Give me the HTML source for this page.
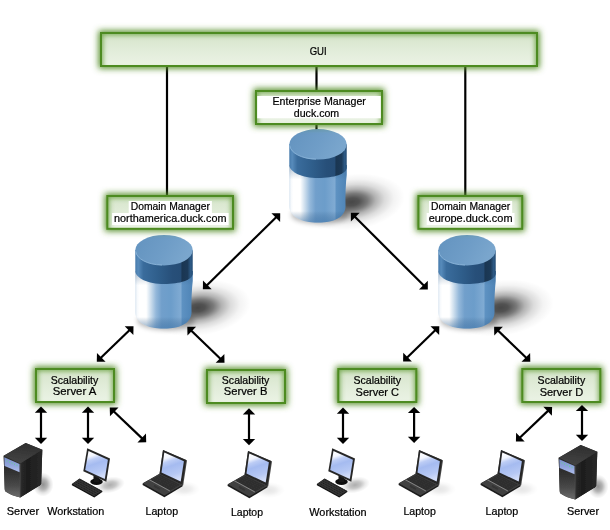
<!DOCTYPE html>
<html>
<head>
<meta charset="utf-8">
<title>Diagram</title>
<style>
html,body{margin:0;padding:0;background:#fff;}
body{width:610px;height:530px;overflow:hidden;font-family:"Liberation Sans",sans-serif;}
svg{display:block;}
text{font-family:"Liberation Sans",sans-serif;font-size:11px;fill:#000;stroke:#000;stroke-width:0.22px;}
</style>
</head>
<body>
<svg width="610" height="530" viewBox="0 0 610 530">
<defs>
  <linearGradient id="gbox" x1="0" y1="0" x2="0" y2="1">
    <stop offset="0" stop-color="#d5e4c9"/>
    <stop offset="0.5" stop-color="#e1ecd9"/>
    <stop offset="1" stop-color="#ebf3e5"/>
  </linearGradient>
  <linearGradient id="gboxw" x1="0" y1="0" x2="0" y2="1">
    <stop offset="0" stop-color="#f4f9f0"/>
    <stop offset="1" stop-color="#ffffff"/>
  </linearGradient>
  <filter id="glow" x="-30%" y="-60%" width="160%" height="220%">
    <feGaussianBlur stdDeviation="3.3"/>
  </filter>
  <filter id="iglow" x="-30%" y="-60%" width="160%" height="220%">
    <feGaussianBlur stdDeviation="2.6"/>
  </filter>
  <filter id="sh" x="-50%" y="-50%" width="200%" height="200%">
    <feGaussianBlur stdDeviation="5"/>
  </filter>
  <filter id="sh2" x="-50%" y="-50%" width="200%" height="200%">
    <feGaussianBlur stdDeviation="2.5"/>
  </filter>
  <filter id="b1" x="-20%" y="-20%" width="140%" height="140%">
    <feGaussianBlur stdDeviation="0.35"/>
  </filter>

  <linearGradient id="cbody" x1="0" y1="0" x2="1" y2="0">
    <stop offset="0" stop-color="#d8e4f0"/>
    <stop offset="0.03" stop-color="#f6f9fc"/>
    <stop offset="0.07" stop-color="#ffffff"/>
    <stop offset="0.19" stop-color="#ffffff"/>
    <stop offset="0.27" stop-color="#cddeed"/>
    <stop offset="0.36" stop-color="#94b8da"/>
    <stop offset="0.46" stop-color="#719fcb"/>
    <stop offset="0.62" stop-color="#6c9dca"/>
    <stop offset="0.72" stop-color="#78a5cf"/>
    <stop offset="0.795" stop-color="#80abd3"/>
    <stop offset="0.815" stop-color="#5e92c2"/>
    <stop offset="1" stop-color="#4f84b6"/>
  </linearGradient>
  <linearGradient id="cband" x1="0" y1="0" x2="1" y2="0">
    <stop offset="0" stop-color="#467aab"/>
    <stop offset="0.05" stop-color="#578bbb"/>
    <stop offset="0.14" stop-color="#3a6c9c"/>
    <stop offset="0.40" stop-color="#2f5e8b"/>
    <stop offset="0.65" stop-color="#274f79"/>
    <stop offset="0.79" stop-color="#264d76"/>
    <stop offset="0.815" stop-color="#1a3652"/>
    <stop offset="0.91" stop-color="#1c3a58"/>
    <stop offset="0.965" stop-color="#2d5a86"/>
    <stop offset="1" stop-color="#234b73"/>
  </linearGradient>
  <linearGradient id="ctop" x1="0" y1="0" x2="1" y2="0.3">
    <stop offset="0" stop-color="#6393bf"/>
    <stop offset="0.6" stop-color="#6f9dc7"/>
    <stop offset="1" stop-color="#7aa6cd"/>
  </linearGradient>
  <linearGradient id="cbodyv" x1="0" y1="0" x2="0" y2="1">
    <stop offset="0" stop-color="#274f78" stop-opacity="0.35"/>
    <stop offset="0.25" stop-color="#274f78" stop-opacity="0"/>
    <stop offset="0.8" stop-color="#274f78" stop-opacity="0"/>
    <stop offset="1" stop-color="#3f74a8" stop-opacity="0.55"/>
  </linearGradient>
  <radialGradient id="cshadow" cx="0.5" cy="0.5" r="0.5">
    <stop offset="0" stop-color="#000" stop-opacity="0.72"/>
    <stop offset="0.14" stop-color="#000" stop-opacity="0.68"/>
    <stop offset="0.30" stop-color="#000" stop-opacity="0.52"/>
    <stop offset="0.45" stop-color="#000" stop-opacity="0.30"/>
    <stop offset="0.62" stop-color="#000" stop-opacity="0.14"/>
    <stop offset="0.80" stop-color="#000" stop-opacity="0.045"/>
    <stop offset="1" stop-color="#000" stop-opacity="0"/>
  </radialGradient>
  <g id="cyl" transform="scale(0.99,1)">
    <ellipse cx="63" cy="73" rx="54" ry="28" fill="url(#cshadow)" transform="rotate(-7 63 73)"/>
    <ellipse cx="31" cy="86" rx="29" ry="9" fill="#000" opacity="0.28" filter="url(#sh2)"/>
    <path d="M0,36 L0,77 C0,87.6 12,93.6 29,93.6 C46,93.6 56.8,87.6 56.8,77 Q56.4,60 58,46 L58,36 Z" fill="url(#cbody)"/>
    <path d="M0,36 L0,77 C0,87.6 12,93.6 29,93.6 C46,93.6 56.8,87.6 56.8,77 Q56.4,60 58,46 L58,36 Z" fill="url(#cbodyv)"/>
    <path d="M0,15.3 L0,36 C0,43 13,49 29,49 C45,49 58,45 58,38.5 L58,15.3 Z" fill="url(#cband)"/>
    <ellipse cx="29" cy="15.3" rx="29" ry="15.3" fill="url(#ctop)"/>
    <path d="M0.4,16.5 C1.5,24 12,29.8 27,30.2" fill="none" stroke="#93bbde" stroke-width="1" opacity="0.75"/>
  </g>

  <linearGradient id="scr" x1="0.15" y1="0" x2="0.42" y2="1">
    <stop offset="0" stop-color="#ffffff"/>
    <stop offset="0.20" stop-color="#f3f6fe"/>
    <stop offset="0.33" stop-color="#bdcdf5"/>
    <stop offset="0.50" stop-color="#a5bbf0"/>
    <stop offset="0.80" stop-color="#b6c8f4"/>
    <stop offset="1" stop-color="#d2ddf9"/>
  </linearGradient>
  <radialGradient id="ishadow" cx="0.5" cy="0.5" r="0.5">
    <stop offset="0" stop-color="#000" stop-opacity="1"/>
    <stop offset="0.4" stop-color="#000" stop-opacity="0.7"/>
    <stop offset="0.7" stop-color="#000" stop-opacity="0.25"/>
    <stop offset="1" stop-color="#000" stop-opacity="0"/>
  </radialGradient>
  <g id="laptop">
    <ellipse cx="184" cy="489" rx="16" ry="8" fill="url(#ishadow)" opacity="0.10"/>
    <g filter="url(#b1)">
    <!-- base -->
    <polygon points="142.6,483.4 159.5,473.7 182.6,484.9 182.6,486.3 164.4,497.2 142.6,485.0" fill="#1b1b1b"/>
    <polygon points="142.8,483.3 159.5,473.9 182.4,484.9 164.3,495.4" fill="#414141"/>
    <polygon points="150.5,479.8 160.2,474.8 180,484.8 170.5,490.4" fill="#2d2d2d"/>
    <g stroke="#3b3b3b" stroke-width="0.6" stroke-dasharray="1 0.8">
      <line x1="153" y1="479.6" x2="172.5" y2="489.4"/>
      <line x1="155.3" y1="478.4" x2="174.8" y2="488.2"/>
      <line x1="157.6" y1="477.2" x2="177.1" y2="487"/>
      <line x1="159.6" y1="476.1" x2="179.1" y2="485.9"/>
    </g>
    <line x1="149.1" y1="479.6" x2="169.9" y2="491" stroke="#8c8c8c" stroke-width="0.9"/>
    <line x1="154" y1="485.8" x2="160" y2="489.1" stroke="#353535" stroke-width="2.2"/>
    <!-- screen -->
    <polygon points="163,450 186.2,459.9 187,460.5 183.2,485.3 182.4,485 159.5,473.9" fill="#4c4c4c"/>
    <polygon points="163,450 186.2,459.9 182.4,485 159.5,473.9" fill="#282828"/>
    <polygon points="164.3,452.4 183.9,461.2 180.7,481.6 161.5,472.4" fill="url(#scr)"/>
    </g>
  </g>

  <g id="ws">
    <ellipse cx="110" cy="485" rx="15" ry="8" fill="url(#ishadow)" opacity="0.32" transform="rotate(-12 110 485)"/>
    <g filter="url(#b1)">
    <!-- stand -->
    <ellipse cx="96.5" cy="481.8" rx="6.2" ry="3.2" fill="#0e0e0e"/>
    <polygon points="93.5,474 99.5,476.5 99.5,482 93.5,482" fill="#151515"/>
    <!-- monitor -->
    <polygon points="87.2,448.3 110,458.4 106.3,481.7 83.3,471.3" fill="#282828"/>
    <polygon points="88.5,450.9 107.9,459.7 104.8,478.9 85.2,470" fill="url(#scr)"/>
    <!-- keyboard -->
    <polygon points="71.9,484.1 79.6,478.6 102.3,490.9 102.3,492 94.3,497.4 71.9,485.2" fill="#111"/>
    <polygon points="72.1,484 79.6,478.8 102.1,490.9 94.3,496.2" fill="#353535"/>
    <g stroke="#1a1a1a" stroke-width="0.9" stroke-dasharray="1.1 0.7">
      <line x1="74.6" y1="483.6" x2="96" y2="495.1"/>
      <line x1="76.4" y1="482.3" x2="97.8" y2="493.8"/>
      <line x1="78.2" y1="481" x2="99.6" y2="492.5"/>
      <line x1="79.8" y1="479.8" x2="101.2" y2="491.3"/>
    </g>
    </g>
  </g>

  <linearGradient id="sfront" x1="0" y1="0" x2="0" y2="1">
    <stop offset="0" stop-color="#262626"/>
    <stop offset="0.35" stop-color="#2f2f2f"/>
    <stop offset="0.7" stop-color="#484848"/>
    <stop offset="1" stop-color="#6c6c6c"/>
  </linearGradient>
  <linearGradient id="sside" x1="0" y1="0" x2="1" y2="0">
    <stop offset="0" stop-color="#2c2c2c"/>
    <stop offset="0.3" stop-color="#1d1d1d"/>
    <stop offset="1" stop-color="#282828"/>
  </linearGradient>
  <linearGradient id="stop" x1="0.6" y1="0" x2="0.4" y2="1">
    <stop offset="0" stop-color="#2e2e2e"/>
    <stop offset="1" stop-color="#444444"/>
  </linearGradient>
  <linearGradient id="spanel" x1="0" y1="0" x2="0" y2="1">
    <stop offset="0" stop-color="#7d92cc"/>
    <stop offset="0.5" stop-color="#8fa3dc"/>
    <stop offset="1" stop-color="#b0bfec"/>
  </linearGradient>
  <g id="server">
    <ellipse cx="43" cy="484.5" rx="10.5" ry="12" fill="url(#ishadow)" opacity="0.43"/>
    <g filter="url(#b1)">
    <path d="M3.7,455.7 L25.7,443.1 L42.3,449.8 L41.2,483.5 Q41,484.6 40,485.3 L20.2,497.6 Q12,496 5.5,491.5 Q4.8,490.5 4.7,489 Z" fill="#252525"/>
    <path d="M3.7,455.7 L20.4,463.3 L20.4,497.6 Q12,496 5.5,491.5 Q4.8,490.5 4.7,489 Z" fill="url(#sfront)"/>
    <path d="M20.2,463.3 L42.3,449.8 L41.2,483.5 Q41,484.6 40,485.3 L20.2,497.6 Z" fill="url(#sside)"/>
    <polygon points="3.7,455.7 25.7,443.1 42.3,449.8 20.2,463.5" fill="url(#stop)"/>
    <polygon points="4.3,457.3 19.6,464.1 19.6,472.3 4.6,466.1" fill="url(#spanel)"/>
    <g fill="#6fc2a8"><rect x="6.5" y="460.2" width="1" height="1.6"/><rect x="9" y="461.3" width="1" height="1.6"/><rect x="11.5" y="462.4" width="1" height="1.6"/><rect x="14" y="463.5" width="1" height="1.6"/><rect x="16.5" y="464.6" width="1" height="1.6"/></g>
    <line x1="20.2" y1="464" x2="20.2" y2="497" stroke="#505050" stroke-width="0.7"/>
    </g>
  </g>
</defs>

<rect width="610" height="530" fill="#fff"/>
<g stroke="#000" stroke-width="2.2" fill="none">
  <line x1="167" y1="66" x2="167" y2="197"/>
  <line x1="316.5" y1="66" x2="316.5" y2="131"/>
  <line x1="465.3" y1="66" x2="465.3" y2="197"/>
</g>
<use href="#cyl" x="289.3" y="129"/>
<use href="#cyl" x="135.3" y="234.9"/>
<use href="#cyl" x="438.3" y="234.9"/>
<rect x="98.5" y="30.5" width="441.0" height="38.0" fill="#568f2c" filter="url(#glow)"/><rect x="101.0" y="33.0" width="436.0" height="33.0" fill="url(#gbox)"/><clipPath id="cp0"><rect x="101.0" y="33.0" width="436.0" height="33.0"/></clipPath><g clip-path="url(#cp0)"><rect x="100.0" y="32.0" width="438.0" height="40.0" fill="none" stroke="#5d9a33" stroke-width="6" opacity="0.8" filter="url(#iglow)"/></g><rect x="101.0" y="33.0" width="436.0" height="33.0" fill="none" stroke="#4d8b21" stroke-width="2"/>
<rect x="253.5" y="88.5" width="131.0" height="38.0" fill="#568f2c" filter="url(#glow)"/><rect x="256.0" y="91.0" width="126.0" height="33.0" fill="url(#gbox)"/><clipPath id="cp1"><rect x="256.0" y="91.0" width="126.0" height="33.0"/></clipPath><g clip-path="url(#cp1)"><rect x="255.0" y="90.0" width="128.0" height="40.0" fill="none" stroke="#5d9a33" stroke-width="6" opacity="0.8" filter="url(#iglow)"/></g><rect x="256.0" y="91.0" width="126.0" height="33.0" fill="none" stroke="#4d8b21" stroke-width="2"/>
<rect x="104.8" y="193.5" width="130.7" height="37.8" fill="#568f2c" filter="url(#glow)"/><rect x="107.3" y="196.0" width="125.7" height="32.8" fill="url(#gbox)"/><clipPath id="cp2"><rect x="107.3" y="196.0" width="125.7" height="32.8"/></clipPath><g clip-path="url(#cp2)"><rect x="106.3" y="195.0" width="127.7" height="39.8" fill="none" stroke="#5d9a33" stroke-width="6" opacity="0.8" filter="url(#iglow)"/></g><rect x="107.3" y="196.0" width="125.7" height="32.8" fill="none" stroke="#4d8b21" stroke-width="2"/>
<rect x="415.9" y="193.5" width="108.8" height="37.8" fill="#568f2c" filter="url(#glow)"/><rect x="418.4" y="196.0" width="103.8" height="32.8" fill="url(#gbox)"/><clipPath id="cp3"><rect x="418.4" y="196.0" width="103.8" height="32.8"/></clipPath><g clip-path="url(#cp3)"><rect x="417.4" y="195.0" width="105.8" height="39.8" fill="none" stroke="#5d9a33" stroke-width="6" opacity="0.8" filter="url(#iglow)"/></g><rect x="418.4" y="196.0" width="103.8" height="32.8" fill="none" stroke="#4d8b21" stroke-width="2"/>
<rect x="33.5" y="366.5" width="83.0" height="38.0" fill="#568f2c" filter="url(#glow)"/><rect x="36.0" y="369.0" width="78.0" height="33.0" fill="url(#gbox)"/><clipPath id="cp4"><rect x="36.0" y="369.0" width="78.0" height="33.0"/></clipPath><g clip-path="url(#cp4)"><rect x="35.0" y="368.0" width="80.0" height="40.0" fill="none" stroke="#5d9a33" stroke-width="6" opacity="0.8" filter="url(#iglow)"/></g><rect x="36.0" y="369.0" width="78.0" height="33.0" fill="none" stroke="#4d8b21" stroke-width="2"/>
<rect x="204.5" y="367.5" width="83.0" height="38.0" fill="#568f2c" filter="url(#glow)"/><rect x="207.0" y="370.0" width="78.0" height="33.0" fill="url(#gbox)"/><clipPath id="cp5"><rect x="207.0" y="370.0" width="78.0" height="33.0"/></clipPath><g clip-path="url(#cp5)"><rect x="206.0" y="369.0" width="80.0" height="40.0" fill="none" stroke="#5d9a33" stroke-width="6" opacity="0.8" filter="url(#iglow)"/></g><rect x="207.0" y="370.0" width="78.0" height="33.0" fill="none" stroke="#4d8b21" stroke-width="2"/>
<rect x="335.8" y="366.5" width="83.0" height="38.0" fill="#568f2c" filter="url(#glow)"/><rect x="338.3" y="369.0" width="78.0" height="33.0" fill="url(#gbox)"/><clipPath id="cp6"><rect x="338.3" y="369.0" width="78.0" height="33.0"/></clipPath><g clip-path="url(#cp6)"><rect x="337.3" y="368.0" width="80.0" height="40.0" fill="none" stroke="#5d9a33" stroke-width="6" opacity="0.8" filter="url(#iglow)"/></g><rect x="338.3" y="369.0" width="78.0" height="33.0" fill="none" stroke="#4d8b21" stroke-width="2"/>
<rect x="519.8" y="366.5" width="83.0" height="38.0" fill="#568f2c" filter="url(#glow)"/><rect x="522.3" y="369.0" width="78.0" height="33.0" fill="url(#gbox)"/><clipPath id="cp7"><rect x="522.3" y="369.0" width="78.0" height="33.0"/></clipPath><g clip-path="url(#cp7)"><rect x="521.3" y="368.0" width="80.0" height="40.0" fill="none" stroke="#5d9a33" stroke-width="6" opacity="0.8" filter="url(#iglow)"/></g><rect x="522.3" y="369.0" width="78.0" height="33.0" fill="none" stroke="#4d8b21" stroke-width="2"/>
<g opacity="0.999">
<text x="318.2" y="54.6" text-anchor="middle" textLength="17.0" lengthAdjust="spacingAndGlyphs">GUI</text>
<rect x="257.2" y="96" width="123.6" height="22.3" fill="#fff"/>
<text x="319.2" y="105.3" text-anchor="middle" textLength="93.4" lengthAdjust="spacingAndGlyphs">Enterprise Manager</text>
<text x="316.5" y="117.0" text-anchor="middle" textLength="45.4" lengthAdjust="spacingAndGlyphs">duck.com</text>
<rect x="128.7" y="201.0" width="83.2" height="12" fill="#fff"/><text x="170.3" y="209.8" text-anchor="middle" textLength="79.2" lengthAdjust="spacingAndGlyphs">Domain Manager</text>
<rect x="112.1" y="213.0" width="116.5" height="12" fill="#fff"/><text x="170.3" y="221.8" text-anchor="middle" textLength="112.5" lengthAdjust="spacingAndGlyphs">northamerica.duck.com</text>
<rect x="429.0" y="201.0" width="83.2" height="12" fill="#fff"/><text x="470.6" y="209.8" text-anchor="middle" textLength="79.2" lengthAdjust="spacingAndGlyphs">Domain Manager</text>
<rect x="426.7" y="213.0" width="87.8" height="12" fill="#fff"/><text x="470.6" y="221.8" text-anchor="middle" textLength="83.8" lengthAdjust="spacingAndGlyphs">europe.duck.com</text>
<text x="74.5" y="383.8" text-anchor="middle" textLength="47.6" lengthAdjust="spacingAndGlyphs">Scalability</text>
<text x="74.5" y="395.0" text-anchor="middle" textLength="43.5" lengthAdjust="spacingAndGlyphs">Server A</text>
<text x="245.6" y="383.8" text-anchor="middle" textLength="47.6" lengthAdjust="spacingAndGlyphs">Scalability</text>
<text x="245.6" y="395.0" text-anchor="middle" textLength="43.5" lengthAdjust="spacingAndGlyphs">Server B</text>
<text x="377.3" y="383.8" text-anchor="middle" textLength="47.6" lengthAdjust="spacingAndGlyphs">Scalability</text>
<text x="377.3" y="395.6" text-anchor="middle" textLength="43.5" lengthAdjust="spacingAndGlyphs">Server C</text>
<text x="561.4" y="383.8" text-anchor="middle" textLength="47.6" lengthAdjust="spacingAndGlyphs">Scalability</text>
<text x="561.4" y="395.6" text-anchor="middle" textLength="43.5" lengthAdjust="spacingAndGlyphs">Server D</text>
</g>
<g fill="#000">
<polygon points="280.20,213.20 271.43,213.13 280.13,221.97"/><polygon points="202.90,289.20 202.97,280.43 211.67,289.27"/><line x1="276.66" y1="216.68" x2="206.44" y2="285.72" stroke="#000" stroke-width="2.2"/>
<polygon points="350.90,212.80 350.91,221.57 359.67,212.79"/><polygon points="427.80,289.50 419.03,289.51 427.79,280.73"/><line x1="354.41" y1="216.30" x2="424.29" y2="286.00" stroke="#000" stroke-width="2.2"/>
<polygon points="133.50,326.30 124.73,326.14 133.34,335.07"/><polygon points="96.80,361.70 96.96,352.93 105.57,361.86"/><line x1="129.93" y1="329.74" x2="100.37" y2="358.26" stroke="#000" stroke-width="2.2"/>
<polygon points="187.30,326.80 187.46,335.57 196.07,326.64"/><polygon points="224.50,362.70 215.73,362.86 224.34,353.93"/><line x1="190.87" y1="330.24" x2="220.93" y2="359.26" stroke="#000" stroke-width="2.2"/>
<polygon points="439.30,326.30 430.53,326.16 439.16,335.07"/><polygon points="403.10,361.40 403.24,352.63 411.87,361.54"/><line x1="435.74" y1="329.75" x2="406.66" y2="357.95" stroke="#000" stroke-width="2.2"/>
<polygon points="494.10,326.80 494.26,335.57 502.87,326.64"/><polygon points="530.30,361.70 521.53,361.86 530.14,352.93"/><line x1="497.67" y1="330.24" x2="526.73" y2="358.26" stroke="#000" stroke-width="2.2"/>
<polygon points="41.00,406.60 34.80,412.80 47.20,412.80"/><polygon points="41.00,444.00 34.80,437.80 47.20,437.80"/><line x1="41.00" y1="411.56" x2="41.00" y2="439.04" stroke="#000" stroke-width="2.2"/>
<polygon points="88.00,406.60 81.80,412.80 94.20,412.80"/><polygon points="88.00,444.00 81.80,437.80 94.20,437.80"/><line x1="88.00" y1="411.56" x2="88.00" y2="439.04" stroke="#000" stroke-width="2.2"/>
<polygon points="109.75,407.60 109.97,416.37 118.52,407.38"/><polygon points="146.20,442.30 137.43,442.52 145.98,433.53"/><line x1="113.34" y1="411.02" x2="142.61" y2="438.88" stroke="#000" stroke-width="2.2"/>
<polygon points="249.00,408.30 242.80,414.50 255.20,414.50"/><polygon points="249.00,445.20 242.80,439.00 255.20,439.00"/><line x1="249.00" y1="413.26" x2="249.00" y2="440.24" stroke="#000" stroke-width="2.2"/>
<polygon points="343.00,407.60 336.80,413.80 349.20,413.80"/><polygon points="343.00,444.00 336.80,437.80 349.20,437.80"/><line x1="343.00" y1="412.56" x2="343.00" y2="439.04" stroke="#000" stroke-width="2.2"/>
<polygon points="414.10,406.90 407.90,413.10 420.30,413.10"/><polygon points="414.10,443.00 407.90,436.80 420.30,436.80"/><line x1="414.10" y1="411.86" x2="414.10" y2="438.04" stroke="#000" stroke-width="2.2"/>
<polygon points="552.10,407.00 543.33,406.78 551.88,415.77"/><polygon points="515.90,441.40 516.12,432.63 524.67,441.62"/><line x1="548.50" y1="410.42" x2="519.50" y2="437.98" stroke="#000" stroke-width="2.2"/>
<polygon points="582.00,404.90 575.80,411.10 588.20,411.10"/><polygon points="582.00,441.00 575.80,434.80 588.20,434.80"/><line x1="582.00" y1="409.86" x2="582.00" y2="436.04" stroke="#000" stroke-width="2.2"/>
</g>
<use href="#server"/>
<use href="#server" transform="translate(555,2)"/>
<use href="#ws"/>
<use href="#ws" transform="translate(245,0)"/>
<use href="#laptop"/>
<use href="#laptop" transform="translate(85,1)"/>
<use href="#laptop" transform="translate(256,0)"/>
<use href="#laptop" transform="translate(338,0)"/>
<g opacity="0.999">
<text x="22.9" y="515.0" text-anchor="middle" textLength="32.4" lengthAdjust="spacingAndGlyphs">Server</text>
<text x="75.8" y="515.0" text-anchor="middle" textLength="56.9" lengthAdjust="spacingAndGlyphs">Workstation</text>
<text x="161.8" y="514.5" text-anchor="middle" textLength="32.6" lengthAdjust="spacingAndGlyphs">Laptop</text>
<text x="247.0" y="516.0" text-anchor="middle" textLength="32.0" lengthAdjust="spacingAndGlyphs">Laptop</text>
<text x="337.9" y="516.0" text-anchor="middle" textLength="57.3" lengthAdjust="spacingAndGlyphs">Workstation</text>
<text x="419.6" y="515.0" text-anchor="middle" textLength="32.4" lengthAdjust="spacingAndGlyphs">Laptop</text>
<text x="501.9" y="515.0" text-anchor="middle" textLength="32.9" lengthAdjust="spacingAndGlyphs">Laptop</text>
<text x="583.0" y="515.0" text-anchor="middle" textLength="32.1" lengthAdjust="spacingAndGlyphs">Server</text>
</g>
</svg>
</body>
</html>
